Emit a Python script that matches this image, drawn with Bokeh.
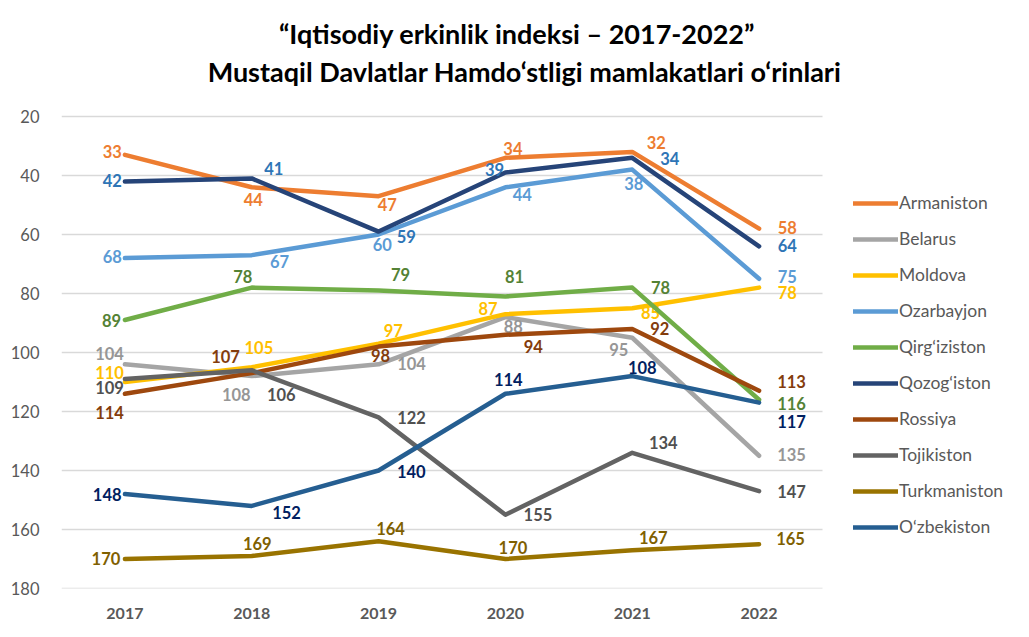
from bokeh.plotting import figure
from bokeh.models import (ColumnDataSource, Range1d, FixedTicker,
                          Legend, LegendItem, Label)
from bokeh.core.properties import value
from bokeh.embed import file_html
from bokeh.resources import INLINE

# ---------------- data ----------------
years = ["2017", "2018", "2019", "2020", "2021", "2022"]
countries = ["Armaniston", "Belarus", "Moldova", "Ozarbayjon", "Qirg\u2018iziston",
             "Qozog\u2018iston", "Rossiya", "Tojikiston", "Turkmaniston", "O\u2018zbekiston"]
armaniston   = [33, 44, 47, 34, 32, 58]
belarus      = [104, 108, 104, 88, 95, 135]
moldova      = [110, 105, 97, 87, 85, 78]
ozarbayjon   = [68, 67, 60, 44, 38, 75]
qirgiziston  = [89, 78, 79, 81, 78, 116]
qozogiston   = [42, 41, 59, 39, 34, 64]
rossiya      = [114, 107, 98, 94, 92, 113]
tojikiston   = [109, 106, 122, 155, 134, 147]
turkmaniston = [170, 169, 164, 170, 167, 165]
ozbekiston   = [148, 152, 140, 114, 108, 117]
series = [armaniston, belarus, moldova, ozarbayjon, qirgiziston,
          qozogiston, rossiya, tojikiston, turkmaniston, ozbekiston]
y_ticks = [20, 40, 60, 80, 100, 120, 140, 160, 180]
title_1 = "\u201cIqtisodiy erkinlik indeksi \u2013 2017-2022\u201d"
title_2 = "Mustaqil Davlatlar Hamdo\u2018stligi mamlakatlari o\u2018rinlari"

# ---------------- styles ----------------
line_colors = ["#ED7D31", "#A5A5A5", "#FFC000", "#5B9BD5", "#70AD47",
               "#264478", "#9E480E", "#636363", "#997300", "#255E91"]
label_colors = ["#ED7D31", "#969696", "#FFC000", "#5B9BD5", "#548235",
                "#2E75B6", "#843C0C", "#505050", "#7F6000", "#002060"]
# label offsets in pixels (dx right, dy down), one list per series
label_dx = [
    [-12.7, 1.5, 8.7, 7.5, 24, 28.2],
    [-15.4, -15.5, 33, 7.9, -13.4, 32.5],
    [-15.4, 7.1, 14.7, -17.3, 18.3, 28.2],
    [-12.7, 27.8, 3.7, 16.9, 1.6, 28.2],
    [-13.4, -8.9, 22, 9.2, 28.3, 32.5],
    [-12.7, 22.1, 27.7, -10.8, 37.6, 28.2],
    [-15.4, -26.2, 2, 27.9, 27.6, 32.5],
    [-15.4, 29.5, 33, 32.5, 31, 32.5],
    [-19, 5.5, 12, 7.5, 21, 31.5],
    [-17.7, 34.8, 32.7, 2.9, 10, 32.5],
]
label_dy = [
    [-2.7, 13.2, 9.3, -8, -8.1, 0.2],
    [-9.8, 19.4, 0.5, 10.1, 12.7, -0.3],
    [-8.8, -18.5, -12.5, -4.4, 5.5, 6.2],
    [-0.3, 7.6, 11, 8.2, 15.2, -1.6],
    [1.1, -10.4, -15, -18.7, 1.2, 5.1],
    [0.1, -8.7, 6.3, -2, 1.7, 0.2],
    [20, -15.4, 9.9, 12.4, 0.9, -8.7],
    [9.7, 25.3, 1.4, 0.7, -9, 1.6],
    [0.5, -11.5, -11.5, -10.8, -12, -4.8],
    [1.4, 7.9, 1.7, -13.3, -7.9, 20.1],
]
FONT = "Lato"
BASELINE_SHIFT = -1.0

# geometry (pixels)
W, H = 1021, 629
F_LEFT, F_RIGHT, F_BOTTOM = 61, 1015, 588
PLOT_RIGHT = 822                # where the category area ends
Y_TOP_PX = 116                  # pixel row of the first tick
n = len(years)
bin_px = (PLOT_RIGHT - F_LEFT) / n
y_per_px = (y_ticks[-1] - y_ticks[0]) / (F_BOTTOM - Y_TOP_PX)
x_end = -0.5 + (F_RIGHT - F_LEFT) / bin_px
y_top = y_ticks[0] - Y_TOP_PX * y_per_px

def px_to_x(px):
    return -0.5 + (px - F_LEFT) / bin_px

def px_to_y(py):
    return y_ticks[0] - (Y_TOP_PX - py) * y_per_px

p = figure(width=W, height=H, x_range=Range1d(-0.5, x_end),
           y_range=Range1d(start=y_ticks[-1], end=y_top), output_backend="svg",
           toolbar_location=None, min_border_left=F_LEFT, min_border_right=W - F_RIGHT,
           min_border_top=0, min_border_bottom=H - F_BOTTOM)
p.outline_line_color = None
p.background_fill_color = "white"
p.border_fill_color = "white"
p.xgrid.grid_line_color = None
p.ygrid.grid_line_color = None

# horizontal gridlines over the category area only
p.segment(x0=[-0.5] * len(y_ticks), x1=[n - 0.5] * len(y_ticks), y0=y_ticks, y1=y_ticks,
          line_color="#D9D9D9", line_width=1.5, level="underlay")

p.yaxis.ticker = FixedTicker(ticks=y_ticks)
p.yaxis.axis_line_color = None
p.yaxis.major_tick_line_color = None
p.yaxis.minor_tick_line_color = None
p.yaxis.major_label_standoff = 16
p.yaxis.major_label_text_font = FONT
p.yaxis.major_label_text_font_size = "16.5px"
p.yaxis.major_label_text_color = "#595959"

xs = list(range(n))
p.xaxis.ticker = FixedTicker(ticks=xs)
p.xaxis.major_label_overrides = {i: y for i, y in enumerate(years)}
p.xaxis.axis_line_color = None
p.xaxis.major_tick_line_color = None
p.xaxis.minor_tick_line_color = None
p.xaxis.major_label_standoff = 13
p.xaxis.major_label_text_font = FONT
p.xaxis.major_label_text_font_style = "bold"
p.xaxis.major_label_text_font_size = "16px"
p.xaxis.major_label_text_color = "#595959"

items = []
for i, name in enumerate(countries):
    vals = series[i]
    src = ColumnDataSource(dict(x=xs, y=vals, lbl=[str(v) for v in vals],
                                dx=label_dx[i], dy=[d + BASELINE_SHIFT for d in label_dy[i]]))
    r = p.line("x", "y", source=src, line_color=line_colors[i], line_width=4.5,
               line_cap="round", line_join="round")
    items.append(LegendItem(label=name, renderers=[r]))
    p.text("x", "y", text="lbl", source=src, x_offset="dx", y_offset="dy",
           text_color=label_colors[i], text_font=value(FONT), text_font_style="bold",
           text_font_size="16.5px", text_align="center", text_baseline="middle")

legend = Legend(items=items, location=(853 - F_LEFT, F_BOTTOM - 537), orientation="vertical",
                glyph_width=45, glyph_height=20, label_height=20, spacing=15,
                label_standoff=1, padding=0, margin=0,
                label_text_font=FONT, label_text_font_size="17.5px",
                label_text_color="#595959", border_line_color=None,
                background_fill_alpha=0)
p.add_layout(legend)

for txt, cx, base_px in ((title_1, 516.5, 33.0), (title_2, 524, 70.5)):
    p.add_layout(Label(x=px_to_x(cx), y=px_to_y(base_px), text=txt,
                       text_font=FONT, text_font_style="bold", text_font_size="27px",
                       text_color="black", text_align="center", text_baseline="alphabetic"))

open("out.html", "w").write(file_html(p, INLINE))
